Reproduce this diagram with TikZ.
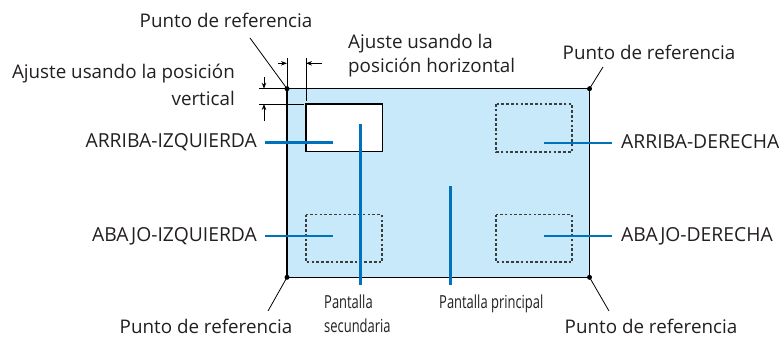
\documentclass[tikz,border=0pt]{standalone}
\usepackage{fontspec}
\setmainfont{Open Sans}
\newfontfamily\condfont[FakeStretch=0.72]{Open Sans}
\usetikzlibrary{arrows.meta}
\definecolor{scrfill}{RGB}{200,233,250}
\definecolor{leadblue}{RGB}{0,114,188}
\definecolor{dashgray}{RGB}{60,60,60}
\definecolor{txt}{RGB}{35,31,32}
\tikzset{
  lbl/.style={inner sep=0pt, text=txt, font=\fontsize{18.8}{24}\selectfont},
  caps/.style={inner sep=0pt, text=txt, font=\fontsize{19.3}{24}\selectfont},
  small/.style={inner sep=0pt, text=txt, font=\condfont\fontsize{18}{24}\selectfont},
  refdot/.style={circle, fill=black, inner sep=0pt, minimum size=5pt},
  thin/.style={draw=black, line width=0.8pt},
  blueline/.style={draw=leadblue, line width=2.6pt},
  dashbox/.style={draw=dashgray, line width=1.3pt, dash pattern=on 2.6pt off 2.2pt},
  dimarrow/.style={draw=black, line width=0.8pt, -{Stealth[length=6pt,width=4.5pt]}},
}
\begin{document}
\begin{tikzpicture}[x=1pt,y=-1pt]
\useasboundingbox (0,0) rectangle (779,339);
% main screen
\draw[fill=scrfill, draw=black, line width=1.2pt] (287,88.7) rectangle (589.5,277.3);
% sub screen
\draw[fill=white, draw=black, line width=1.2pt] (306,104) rectangle (382.5,151.5);
% dashed positions
\draw[dashbox] (496,104) rectangle (572,152);
\draw[dashbox] (306,214.7) rectangle (382,262);
\draw[dashbox] (496,214.7) rectangle (572,262);
% reference points
\node[refdot] (tl) at (287,88.7) {};
\node[refdot] (tr) at (589.5,88.7) {};
\node[refdot] (bl) at (287,277.3) {};
\node[refdot] (br) at (589.5,277.3) {};
% dimension lines
\coordinate (hx1) at (287,58);
\coordinate (hx2) at (306,58);
\coordinate (hx2b) at (306,101);
\draw[thin] (hx1) -- (tl.center);
\draw[thin] (hx2) -- (hx2b);
\coordinate (ha1) at (278,63.3);
\coordinate (ha1e) at (287,63.3);
\coordinate (ha2) at (322,63.3);
\coordinate (ha2e) at (306,63.3);
\draw[dimarrow] (ha1) -- (ha1e);
\draw[dimarrow] (ha2) -- (ha2e);
\coordinate (vy1) at (259,88.7);
\coordinate (vy2) at (259,104);
\coordinate (vy2e) at (304,104);
\draw[thin] (vy1) -- (tl.center);
\draw[thin] (vy2) -- (vy2e);
\coordinate (va1) at (264,77);
\coordinate (va1e) at (264,88.7);
\coordinate (va2) at (264,121);
\coordinate (va2e) at (264,104);
\draw[dimarrow] (va1) -- (va1e);
\draw[dimarrow] (va2) -- (va2e);
% labels
\node[lbl] (ptl) at (226,20) {Punto de referencia};
\node[lbl] (ptr) at (649,52) {Punto de referencia};
\node[lbl] (pbl) at (206,326.5) {Punto de referencia};
\node[lbl] (pbr) at (651,326.5) {Punto de referencia};
\node[lbl, anchor=east] (av1) at (235,74) {Ajuste usando la posición};
\node[lbl, anchor=east] (av2) at (235,98) {vertical};
\node[lbl, anchor=west] (ah1) at (348,44) {Ajuste usando la};
\node[lbl, anchor=west] (ah2) at (348,68) {posición horizontal};
\node[caps, anchor=east] (ai) at (257,142) {ARRIBA-IZQUIERDA};
\node[caps, anchor=west] (ad) at (621,142) {ARRIBA-DERECHA};
\node[caps, anchor=east] (bi) at (257,236) {ABAJO-IZQUIERDA};
\node[caps, anchor=west] (bd) at (621,236) {ABAJO-DERECHA};
\node[small, anchor=base west] (ps1) at (324,308) {Pantalla};
\node[small, anchor=base west] (ps2) at (324,332) {secundaria};
\node[small, anchor=base west] (pp) at (439,308) {Pantalla principal};
% ref leaders
\coordinate (ltl) at (250,38);
\coordinate (ltr) at (603,67);
\coordinate (lbl) at (268,311);
\coordinate (lbr) at (609,311);
\draw[thin] (ltl) -- (tl.center);
\draw[thin] (ltr) -- (tr.center);
\draw[thin] (lbl) -- (bl.center);
\draw[thin] (lbr) -- (br.center);
% blue leaders
\coordinate (b1a) at (265,142.5); \coordinate (b1b) at (333,142.5);
\coordinate (b2a) at (544,143); \coordinate (b2b) at (612,143);
\coordinate (b3a) at (265,236); \coordinate (b3b) at (333,236);
\coordinate (b4a) at (544,236); \coordinate (b4b) at (612,236);
\coordinate (s1) at (360.5,124); \coordinate (s2) at (360.5,285);
\coordinate (m1) at (450.5,186.5); \coordinate (m2) at (450.5,285);
\draw[blueline] (b1a) -- (b1b);
\draw[blueline] (b2a) -- (b2b);
\draw[blueline] (b3a) -- (b3b);
\draw[blueline] (b4a) -- (b4b);
\draw[blueline] (s1) -- (s2);
\draw[blueline] (m1) -- (m2);
\end{tikzpicture}
\end{document}
